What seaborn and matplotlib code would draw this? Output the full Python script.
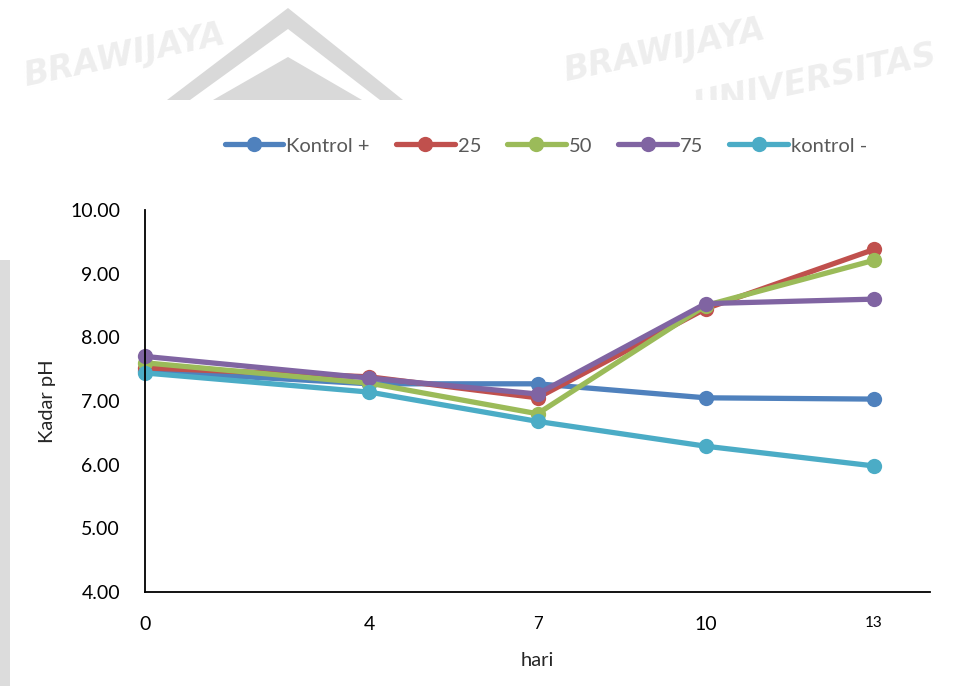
import matplotlib
matplotlib.use("Agg")
import matplotlib.pyplot as plt
from matplotlib.patches import Rectangle, Polygon
import numpy as np
import pandas as pd
import seaborn as sns

# Observation days and pH readings per treatment
hari = [0, 4, 7, 10, 13]
kontrol_plus = [7.47, 7.27, 7.27, 7.05, 7.03]
perlakuan_25 = [7.52, 7.38, 7.05, 8.45, 9.38]
perlakuan_50 = [7.60, 7.28, 6.80, 8.50, 9.21]
perlakuan_75 = [7.70, 7.36, 7.11, 8.53, 8.60]
kontrol_minus = [7.44, 7.14, 6.68, 6.29, 5.98]

series_names = ["Kontrol +", "25", "50", "75", "kontrol -"]
series_values = [kontrol_plus, perlakuan_25, perlakuan_50, perlakuan_75, kontrol_minus]
colors = ["#4F81BD", "#C0504D", "#9BBB59", "#8064A2", "#4BACC6"]

y_ticks = [4.0, 5.0, 6.0, 7.0, 8.0, 9.0, 10.0]
y_tick_labels = [f"{v:.2f}" for v in y_ticks]

df = pd.DataFrame(
    [(h, v, name) for name, vals in zip(series_names, series_values) for h, v in zip(hari, vals)],
    columns=["hari", "pH", "perlakuan"],
)

sns.set_theme(style="white")
plt.rcParams["font.family"] = ["Lato", "DejaVu Sans"]

W, H = 965, 686
fig = plt.figure(figsize=(W / 100, H / 100), dpi=100, facecolor="white")

def fx(px):
    return px / W

def fy(py):
    return 1 - py / H

# Page background: faint watermark lettering and grey chevron
watermark = [("BRAWIJAYA", 20, 55), ("BRAWIJAYA", 560, 50), ("UNIVERSITAS", 690, 80)]
for word, x0, y0 in watermark:
    fig.text(fx(x0), fy(y0), word, fontsize=24, fontweight="bold", style="italic",
             color="#eeeeee", rotation=12, ha="left", va="center", zorder=-5,
             family="DejaVu Sans")

fig.add_artist(Polygon([(fx(167), fy(100)), (fx(288), fy(8)), (fx(403), fy(100))],
                       closed=True, transform=fig.transFigure, facecolor="#d9d9d9",
                       edgecolor="none", zorder=-4))
fig.add_artist(Polygon([(fx(190), fy(100)), (fx(288), fy(29)), (fx(380), fy(100))],
                       closed=True, transform=fig.transFigure, facecolor="white",
                       edgecolor="none", zorder=-3))
fig.add_artist(Polygon([(fx(213), fy(100)), (fx(288), fy(57)), (fx(362), fy(100))],
                       closed=True, transform=fig.transFigure, facecolor="#d9d9d9",
                       edgecolor="none", zorder=-2))
fig.add_artist(Rectangle((0, 0), fx(10), fy(260), transform=fig.transFigure,
                         facecolor="#dcdcdc", edgecolor="none", zorder=-2))
# White chart panel
fig.add_artist(Rectangle((fx(10), 0), 1 - fx(10), fy(100), transform=fig.transFigure,
                         facecolor="white", edgecolor="none", zorder=-1))

ax = fig.add_axes([fx(145), fy(592), fx(930) - fx(145), fy(210) - fy(592)])
ax.set_facecolor("none")

sns.lineplot(
    data=df, x="hari", y="pH", hue="perlakuan", hue_order=series_names,
    palette=colors, marker="o", markersize=11, markeredgewidth=0,
    linewidth=3.8, ax=ax, clip_on=False, legend=True,
)

ax.set_xlim(0, 14)
ax.set_ylim(4, 10)
ax.set_xticks(hari)
ax.set_xticklabels([str(h) for h in hari])
x_label_sizes = [14, 14, 12, 14, 11]
for lbl, s in zip(ax.get_xticklabels(), x_label_sizes):
    lbl.set_fontsize(s)
ax.set_yticks(y_ticks)
ax.set_yticklabels(y_tick_labels, fontsize=14)
ax.tick_params(axis="x", length=0, pad=17, colors="black")
ax.tick_params(axis="y", length=0, pad=18, colors="black")

for side in ["top", "right"]:
    ax.spines[side].set_visible(False)
for side in ["left", "bottom"]:
    ax.spines[side].set_color("black")
    ax.spines[side].set_linewidth(1.3)

ax.set_xlabel("hari", fontsize=14.5, labelpad=14)
ax.set_ylabel("Kadar pH", fontsize=14.5, labelpad=10)

handles, labels = ax.get_legend_handles_labels()
ax.legend(handles, labels, ncol=5, frameon=False, loc="center",
          bbox_to_anchor=((546 - 145) / (930 - 145), (592 - 146) / (592 - 210)),
          fontsize=14.5, handlelength=2.9, handletextpad=0.15, columnspacing=1.3,
          labelcolor="#595959")

fig.savefig("out.png", dpi=100, facecolor=fig.get_facecolor())
